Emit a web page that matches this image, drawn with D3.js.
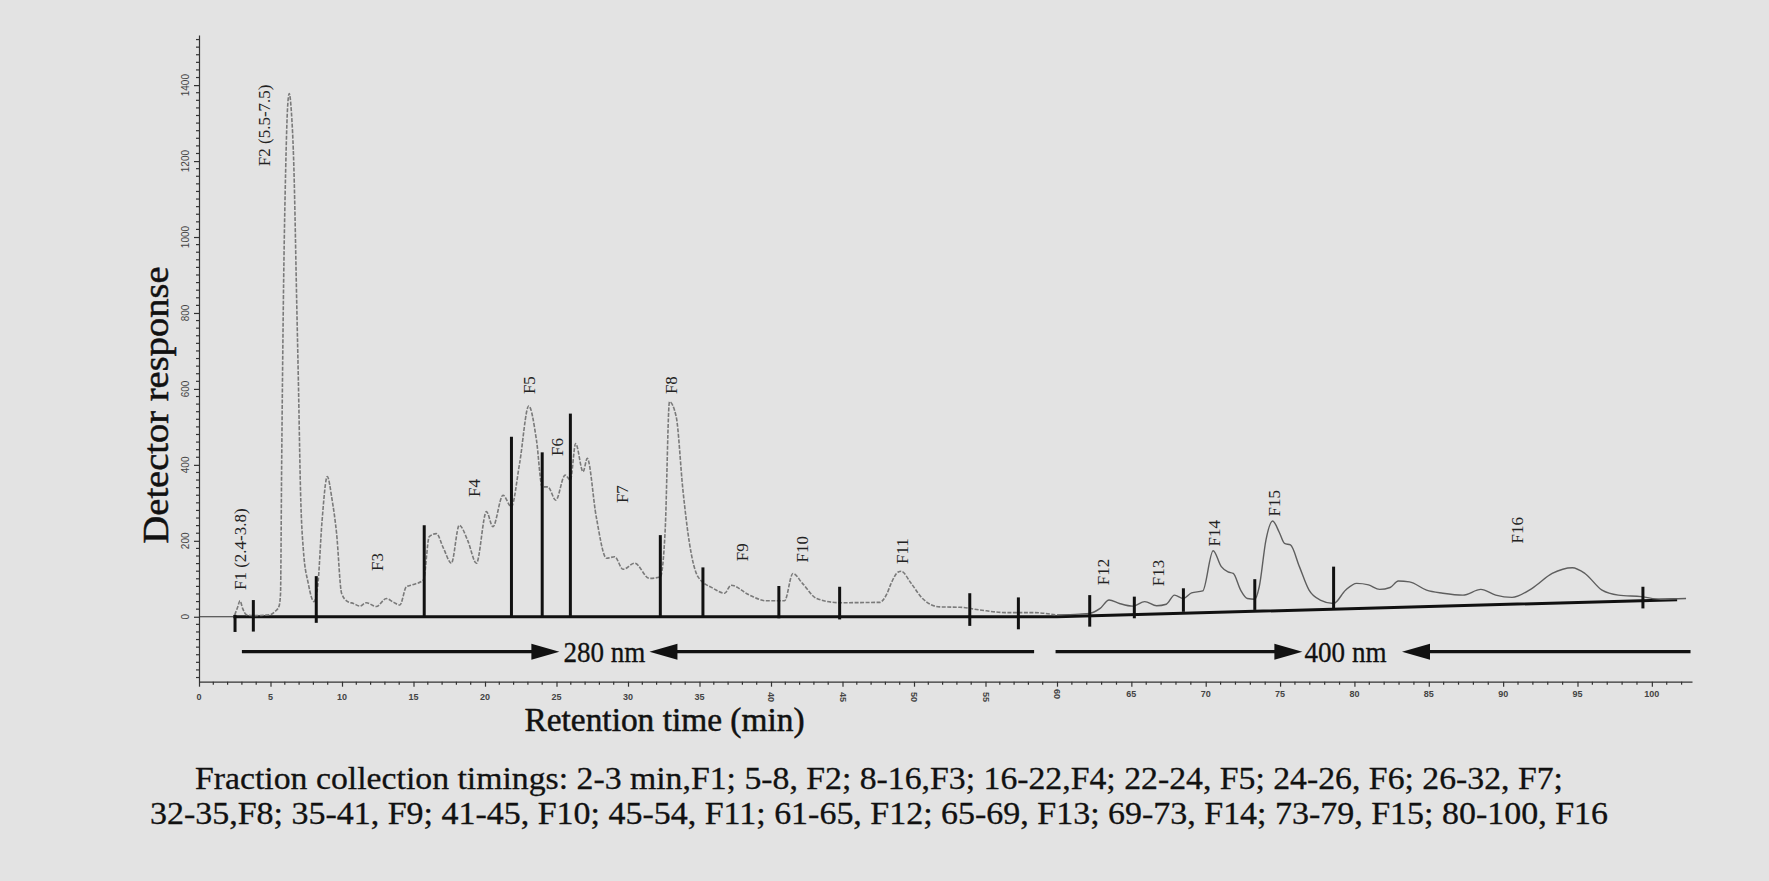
<!DOCTYPE html>
<html>
<head>
<meta charset="utf-8">
<script src="https://cdn.jsdelivr.net/npm/d3@7"></script>
<style>
  html, body { margin: 0; padding: 0; background: #e3e3e3; }
  svg { display: block; }
</style>
</head>
<body>
<svg id="chart" width="1769" height="881"></svg>
<script>
// ---- Chromatogram, 280 nm detection (retention time in min, detector response) ----
const trace280Time = [2.5, 2.7, 2.87, 3.05, 3.3, 3.8, 4.5, 5.0, 5.35, 5.6, 5.7, 5.78, 5.9, 6.06, 6.2, 6.31, 6.45, 6.64, 6.83, 6.95,
  7.1, 7.3, 7.64, 8.04, 8.3, 8.6, 8.97, 9.3, 9.62, 9.97, 10.4, 10.8, 11.25, 11.7, 12.4, 13.1, 13.6, 14.05, 14.5, 14.9,
  15.7, 16.1, 16.6, 17.1, 17.65, 18.2, 18.8, 19.4, 20.1, 20.55, 21.26, 21.84, 22.42, 23.06, 23.6, 24.0, 24.4, 24.95, 25.6, 25.97,
  26.34, 26.86, 27.15, 27.78, 28.5, 29.07, 29.65, 30.47, 31.5, 32.26, 32.6, 32.9, 33.37, 33.84, 34.3, 34.9, 35.95, 36.76, 37.2, 38.5,
  39.67, 40.95, 41.53, 42.2, 43.2, 44.8, 47.6, 48.1, 48.4, 48.9, 49.1, 49.8, 50.6, 51.8, 53.2, 54.6, 56.4, 58.3, 59.9];
const trace280Resp = [5, 25, 42, 22, 6, 3, 4, 6, 15, 28, 60, 400, 830, 1176, 1345, 1378, 1335, 1176, 833, 620,
  330, 175, 88, 40, 80, 250, 369, 310, 220, 62, 40, 35, 28, 37, 27, 48, 38, 31, 79, 84,
  97, 211, 219, 180, 141, 241, 200, 141, 277, 237, 320, 290, 404, 555, 465, 342, 342, 307, 373, 360,
  456, 382, 417, 263, 154, 158, 125, 141, 101, 105, 228, 566, 527, 334, 193, 105, 75, 62, 83, 57,
  42, 42, 114, 88, 48, 37, 38, 60, 88, 118, 120, 88, 48, 26, 25, 18, 11, 11, 5];

// ---- Chromatogram, 400 nm detection ----
const trace400Time = [60.0, 61.5, 62.2, 62.9, 63.5, 64.2, 65.1, 65.9, 66.7, 67.35, 67.9, 68.5, 69.05, 69.8, 70.5, 71.05, 71.5, 71.85,
  72.35, 72.8, 73.3, 73.6, 74.05, 74.5, 74.95, 75.3, 75.7, 76.3, 76.95, 77.7, 78.6, 79.4, 80.15, 80.95, 81.7, 82.4, 82.95,
  83.7, 84.85, 85.95, 87.3, 88.5, 89.5, 90.6, 91.95, 93.3, 94.65, 95.5, 96.65, 97.75, 99.3, 100.6, 102.3];
const trace400Resp = [5, 7, 9, 22, 44, 35, 28, 40, 29, 33, 57, 48, 63, 68, 174, 132, 118, 114,
  70, 48, 46, 79, 202, 252, 222, 193, 189, 132, 70, 44, 35, 70, 88, 84, 72, 77, 94,
  92, 70, 62, 57, 72, 57, 51, 75, 114, 129, 114, 70, 57, 53, 46, 48];

// ---- Fraction cut markers: time, top and bottom of each bar ----
const cutTime   = [2.52, 3.8, 8.2, 15.75, 21.85, 24.0, 25.97, 32.26, 35.24, 40.55, 44.8, 53.9, 57.3, 62.2, 65.2, 68.5, 73.3, 78.6, 99.4];
const cutTop    = [5, 44, 107, 241, 474, 433, 535, 215, 130, 81, 79, 62, 51, 57, 53, 75, 99, 132, 79];
const cutBottom = [-40, -39, -16, 0, 0, 0, 0, 0, 0, -4, -7, -24, -33, -26, -4, 13, 18, 18, 22];

// ---- Fraction labels ----
const fractionNames = ["F1 (2.4-3.8)", "F2 (5.5-7.5)", "F3", "F4", "F5", "F6", "F7", "F8", "F9", "F10", "F11", "F12", "F13", "F14", "F15", "F16"];
const fractionLabelTime = [2.87, 4.61, 12.5, 19.29, 23.13, 25.09, 29.6, 33.03, 38.04, 42.23, 49.22, 63.1, 66.8, 70.6, 74.6, 90.95];
const fractionLabelResp = [178, 1294, 144, 339, 610, 447, 323, 610, 170, 178, 173, 118, 115, 220, 299, 228];

// ---- Baseline drawn under the peaks ----
const baselineTime = [2.4, 60, 101.7];
const baselineResp = [0, 0, 45];

// ---- Detection wavelength ranges (arrows point towards the label) ----
const wavelengthNames = ["280 nm", "400 nm"];
const wavelengthLabelTime = [28.35, 79.4];
const arrowFrom = [3.0, 58.4, 59.9, 102.6];
const arrowTip  = [25.2, 31.5, 76.5, 83.2];
const arrowResp = -92;

// ---- Axis ticks ----
const xTickValues = d3.range(0, 101, 5);
const xMinorValues = d3.range(0, 103, 1).filter(d => d % 5 !== 0);
const yTickValues = d3.range(0, 1401, 200);
const yMinorValues = d3.range(-160, 1521, 20).filter(d => d % 200 !== 0);

const captionLines = [
  "Fraction collection timings: 2-3 min,F1; 5-8, F2; 8-16,F3; 16-22,F4; 22-24, F5; 24-26, F6; 26-32, F7;",
  "32-35,F8; 35-41, F9; 41-45, F10; 45-54, F11; 61-65, F12; 65-69, F13; 69-73, F14; 73-79, F15; 80-100, F16"
];

// ---------------------------------------------------------------------------
const svg = d3.select("#chart");
svg.append("rect").attr("width", 1769).attr("height", 881).attr("fill", "#e3e3e3");

// The 280 nm and 400 nm runs are joined at 60 min, each with its own time scale
const x = d3.scaleLinear().domain([0, 60, 102.7]).range([199, 1057, 1692]);
const y = d3.scaleLinear().domain([-171, 1532]).range([681.7, 35]);

const serif = "'Liberation Serif', 'Times New Roman', serif";
const sans = "'Liberation Sans', Arial, sans-serif";

// Axes
const xAxis = svg.append("g").attr("transform", `translate(0,${y(-171)})`)
  .call(d3.axisBottom(x).tickValues(xTickValues).tickSize(5).tickSizeOuter(0).tickFormat(""));
xAxis.append("g").selectAll("line").data(xMinorValues).join("line")
  .attr("x1", d => x(d)).attr("x2", d => x(d)).attr("y1", 0).attr("y2", 3);
xAxis.selectAll("path, line").attr("stroke", "#333").attr("stroke-width", 1.2);

const yAxis = svg.append("g").attr("transform", `translate(${x(0)},0)`)
  .call(d3.axisLeft(y).tickValues(yTickValues).tickSize(5).tickSizeOuter(0).tickFormat(""));
yAxis.append("g").selectAll("line").data(yMinorValues).join("line")
  .attr("x1", 0).attr("x2", -3).attr("y1", d => y(d)).attr("y2", d => y(d));
yAxis.selectAll("path, line").attr("stroke", "#333").attr("stroke-width", 1.2);

// Tick labels
svg.append("g").selectAll("text").data(xTickValues).join("text")
  .attr("transform", d => {
    const ty = d < 60 ? 697 : 694;
    return (d >= 40 && d <= 60) ? `translate(${x(d)},${ty}) rotate(90)` : `translate(${x(d)},${ty})`;
  })
  .attr("text-anchor", "middle").attr("dominant-baseline", "central")
  .attr("font-family", sans).attr("font-size", 9).attr("font-weight", "bold").attr("fill", "#444")
  .text(d => d);

svg.append("g").selectAll("text").data(yTickValues).join("text")
  .attr("transform", d => `translate(185,${y(d)}) rotate(-90)`)
  .attr("text-anchor", "middle").attr("dominant-baseline", "central")
  .attr("font-family", sans).attr("font-size", 10).attr("fill", "#444")
  .text(d => d);

// Thin zero line before the first cut, then the drawn baseline
svg.append("line").attr("x1", x(0)).attr("x2", x(baselineTime[0]))
  .attr("y1", y(0)).attr("y2", y(0)).attr("stroke", "#333").attr("stroke-width", 1.2);
svg.append("path")
  .datum(d3.zip(baselineTime, baselineResp))
  .attr("d", d3.line().x(d => x(d[0])).y(d => y(d[1])))
  .attr("fill", "none").attr("stroke", "#111").attr("stroke-width", 3);

// Chromatogram traces
const traceLine = d3.line().x(d => x(d[0])).y(d => y(d[1])).curve(d3.curveMonotoneX);
svg.append("path")
  .datum(d3.zip(trace280Time, trace280Resp))
  .attr("d", traceLine)
  .attr("fill", "none").attr("stroke", "#7a7a7a").attr("stroke-width", 1.6)
  .attr("stroke-dasharray", "4,1.5");
svg.append("path")
  .datum(d3.zip(trace400Time, trace400Resp))
  .attr("d", traceLine)
  .attr("fill", "none").attr("stroke", "#5e5e5e").attr("stroke-width", 1.4);

// Fraction cut bars
svg.append("g").selectAll("line").data(d3.range(cutTime.length)).join("line")
  .attr("x1", i => x(cutTime[i])).attr("x2", i => x(cutTime[i]))
  .attr("y1", i => y(cutTop[i])).attr("y2", i => y(cutBottom[i]))
  .attr("stroke", "#111").attr("stroke-width", 3);

// Fraction labels (vertical)
svg.append("g").selectAll("text").data(d3.range(fractionNames.length)).join("text")
  .attr("transform", i => `translate(${x(fractionLabelTime[i])},${y(fractionLabelResp[i])}) rotate(-90)`)
  .attr("text-anchor", "middle").attr("dominant-baseline", "central")
  .attr("font-family", serif).attr("font-size", 17).attr("fill", "#222")
  .text(i => fractionNames[i]);

// Wavelength arrows
const arrows = svg.append("g");
d3.range(arrowFrom.length).forEach(i => {
  const x0 = x(arrowFrom[i]), x1 = x(arrowTip[i]), yy = y(arrowResp);
  const dir = x1 > x0 ? 1 : -1;
  const headLen = 28, headHalf = 8;
  arrows.append("line")
    .attr("x1", x0).attr("x2", x1 - dir * headLen + dir * 2).attr("y1", yy).attr("y2", yy)
    .attr("stroke", "#111").attr("stroke-width", 3.2);
  arrows.append("path")
    .attr("d", `M${x1},${yy} L${x1 - dir * headLen},${yy - headHalf} L${x1 - dir * headLen},${yy + headHalf} Z`)
    .attr("fill", "#111");
});
svg.append("g").selectAll("text").data(d3.range(wavelengthNames.length)).join("text")
  .attr("x", i => x(wavelengthLabelTime[i])).attr("y", y(arrowResp) + 10)
  .attr("text-anchor", "middle")
  .attr("font-family", serif).attr("font-size", 29).attr("fill", "#111")
  .attr("stroke", "#111").attr("stroke-width", 0.3)
  .attr("textLength", 82).attr("lengthAdjust", "spacingAndGlyphs")
  .text(i => wavelengthNames[i]);

// Axis titles
svg.append("text")
  .attr("transform", "translate(168,405) rotate(-90)")
  .attr("text-anchor", "middle")
  .attr("font-family", serif).attr("font-size", 36).attr("fill", "#111")
  .attr("stroke", "#111").attr("stroke-width", 0.5)
  .attr("textLength", 277).attr("lengthAdjust", "spacingAndGlyphs")
  .text("Detector response");

svg.append("text")
  .attr("x", 664.5).attr("y", 731)
  .attr("text-anchor", "middle")
  .attr("font-family", serif).attr("font-size", 33).attr("fill", "#111")
  .attr("stroke", "#111").attr("stroke-width", 0.5)
  .attr("textLength", 280).attr("lengthAdjust", "spacingAndGlyphs")
  .text("Retention time (min)");

// Caption
const captionY = [789, 824];
const captionWidth = [1368, 1458];
svg.append("g").selectAll("text").data(captionLines).join("text")
  .attr("x", 879).attr("y", (d, i) => captionY[i])
  .attr("text-anchor", "middle")
  .attr("font-family", serif).attr("font-size", 31).attr("fill", "#111")
  .attr("stroke", "#111").attr("stroke-width", 0.3)
  .attr("textLength", (d, i) => captionWidth[i]).attr("lengthAdjust", "spacingAndGlyphs")
  .text(d => d);
</script>
</body>
</html>
